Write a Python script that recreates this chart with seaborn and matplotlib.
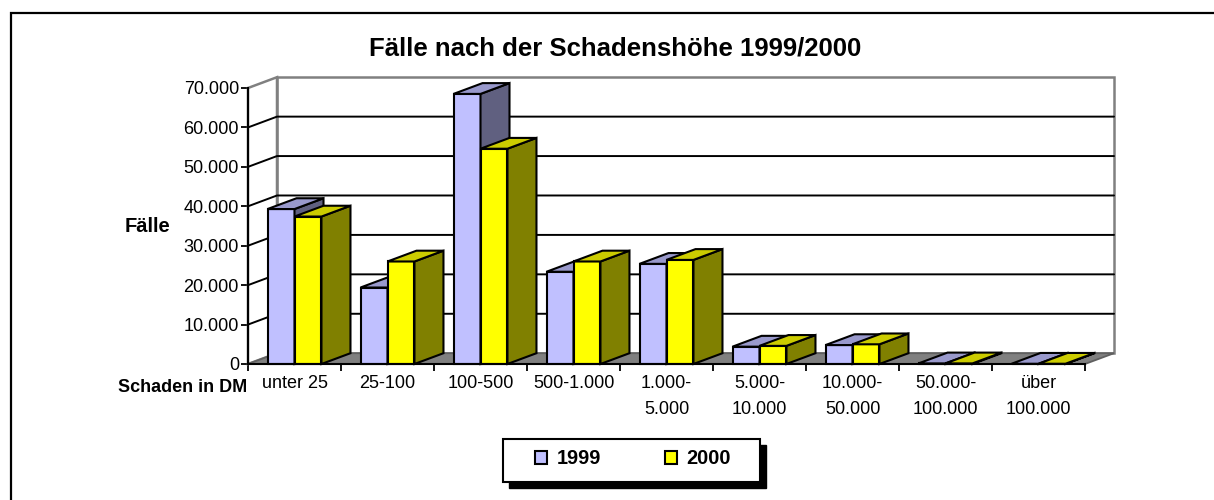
import numpy as np
import pandas as pd
import matplotlib
matplotlib.use("Agg")
import matplotlib.pyplot as plt
from matplotlib.patches import Polygon, Rectangle, Patch
from matplotlib.ticker import FixedLocator, FuncFormatter
import seaborn as sns

categories = ["unter 25", "25-100", "100-500", "500-1.000", "1.000-\n5.000",
              "5.000-\n10.000", "10.000-\n50.000", "50.000-\n100.000", "über\n100.000"]
years = ["1999", "2000"]
faelle_1999 = [39300, 19400, 68500, 23400, 25400, 4400, 4800, 150, 60]
faelle_2000 = [37400, 26000, 54600, 26000, 26400, 4600, 5000, 150, 60]
y_ticks = [0, 10000, 20000, 30000, 40000, 50000, 60000, 70000]

front_col = {"1999": "#C0C0FF", "2000": "#FFFF00"}
top_col = {"1999": "#9999CC", "2000": "#CCCC00"}
side_col = {"1999": "#606080", "2000": "#808000"}

df = pd.DataFrame({
    "Schaden": categories * 2,
    "Jahr": ["1999"] * len(categories) + ["2000"] * len(categories),
    "Fälle": faelle_1999 + faelle_2000,
})

sns.set_style("white")
plt.rcParams["font.family"] = ["Liberation Sans", "DejaVu Sans"]
plt.rcParams["text.color"] = "black"
plt.rcParams["axes.labelcolor"] = "black"
plt.rcParams["xtick.color"] = "black"
plt.rcParams["ytick.color"] = "black"

W, H = 1214, 500
fig = plt.figure(figsize=(W / 100, H / 100), dpi=100)
# front plane of the 3d box, in pixels: x 248..1085, y 364 (0) .. 88 (70.000)
ax = fig.add_axes([248 / W, 1 - 364 / H, 837 / W, 276 / H])
ax.set_facecolor("none")

sns.barplot(data=df, x="Schaden", y="Fälle", hue="Jahr", order=categories,
            hue_order=years, palette=front_col, width=0.58, saturation=1,
            edgecolor="black", linewidth=1.5, errorbar=None, legend=False, ax=ax)

x0, x1 = -0.5, len(categories) - 0.5
ymax = y_ticks[-1]
ax.set_xlim(x0, x1)
ax.set_ylim(0, ymax)

# depth of the box (29px right, 10.8px up) in data units
ddx = 29 / (837 / len(categories))
ddy = 10.8 * ymax / 276

# walls and floor
ax.add_patch(Rectangle((x0 + ddx, ddy), x1 - x0, ymax, fc="white", ec="#808080",
                       lw=1.8, zorder=0.5, clip_on=False))
ax.add_patch(Polygon([(x0, 0), (x0, ymax), (x0 + ddx, ymax + ddy), (x0 + ddx, ddy)],
                     closed=True, fc="white", ec="#808080", lw=1.8, zorder=0.6, clip_on=False))
ax.add_patch(Polygon([(x0, 0), (x1, 0), (x1 + ddx, ddy), (x0 + ddx, ddy)],
                     closed=True, fc="#808080", ec="#606060", lw=1.3, zorder=1, clip_on=False))
for t in y_ticks[1:-1]:
    ax.plot([x0, x0 + ddx, x1 + ddx], [t, t + ddy, t + ddy], color="black",
            lw=1.4, zorder=0.8, clip_on=False)

# 3d faces for every bar
for j, year in enumerate(years):
    for bar in ax.containers[j]:
        bx, bw, bh = bar.get_x(), bar.get_width(), bar.get_height()
        i = int(round(bx + bw / 2))
        z = 10 + 2 * i + j
        bar.set_zorder(z)
        bar.set_clip_on(False)
        top = Polygon([(bx, bh), (bx + bw, bh), (bx + bw + ddx, bh + ddy), (bx + ddx, bh + ddy)],
                      closed=True, fc=top_col[year], ec="black", lw=1.5, zorder=z, clip_on=False)
        side = Polygon([(bx + bw, 0), (bx + bw, bh), (bx + bw + ddx, bh + ddy), (bx + bw + ddx, ddy)],
                       closed=True, fc=side_col[year], ec="black", lw=1.5, zorder=z, clip_on=False)
        ax.add_patch(side)
        ax.add_patch(top)

# axes, ticks, labels
for s in ["top", "right"]:
    ax.spines[s].set_visible(False)
for s in ["left", "bottom"]:
    ax.spines[s].set_color("black")
    ax.spines[s].set_linewidth(1.5)
    ax.spines[s].set_zorder(40)

ax.yaxis.set_major_locator(FixedLocator(y_ticks))
ax.yaxis.set_major_formatter(FuncFormatter(lambda v, p: f"{int(v):,}".replace(",", ".")))
ax.tick_params(axis="y", direction="out", length=5, width=1.3, pad=1.5,
               labelsize=13, colors="black", left=True)

ax.set_xticks(np.arange(x0, x1 + 0.5, 1.0), labels=[""] * (len(categories) + 1))
ax.set_xticks(np.arange(len(categories)), labels=categories, minor=True)
ax.tick_params(axis="x", which="major", direction="out", length=5, width=1.3,
               colors="black", bottom=True)
ax.tick_params(axis="x", which="minor", length=0, pad=7.7, labelsize=13, colors="black")
for lbl in ax.get_xticklabels(minor=True):
    lbl.set_linespacing(1.75)

ax.set_ylabel("Fälle", rotation=0, fontsize=14.5, fontweight="bold", ha="center", va="center")
ax.yaxis.set_label_coords((148 - 248) / 837, (364 - 226) / 276)
ax.set_xlabel("Schaden in DM", fontsize=13, fontweight="bold", ha="right", va="baseline")
ax.xaxis.set_label_coords((247 - 248) / 837, (364 - 392) / 276)

fig.text(615 / W, 1 - 55 / H, "Fälle nach der Schadenshöhe 1999/2000", ha="center",
         va="baseline", fontsize=18.5, fontweight="bold")

# legend with shadowed frame
fig.add_artist(Rectangle((509 / W, 1 - 488 / H), 257 / W, 43 / H, transform=fig.transFigure,
                         fc="black", ec="black", zorder=1))
fig.add_artist(Rectangle((503 / W, 1 - 482 / H), 257 / W, 43 / H, transform=fig.transFigure,
                         fc="white", ec="black", lw=1.5, zorder=2))
handles = [Patch(fc=front_col[y], ec="black", lw=1.5, label=y) for y in years]
fig.legend(handles=handles, loc="center", bbox_to_anchor=(633 / W, 1 - 459 / H), ncol=2,
           frameon=False, prop={"weight": "bold", "size": 14.3}, handlelength=0.6,
           handleheight=0.6, handletextpad=0.5, columnspacing=3.2)

# outer chart border
fig.add_artist(Rectangle((11 / W, -0.1), 1.2, 1.1 - 13 / H, transform=fig.transFigure,
                         fill=False, ec="black", lw=1.6, zorder=0))

fig.savefig("out.png", dpi=100)
